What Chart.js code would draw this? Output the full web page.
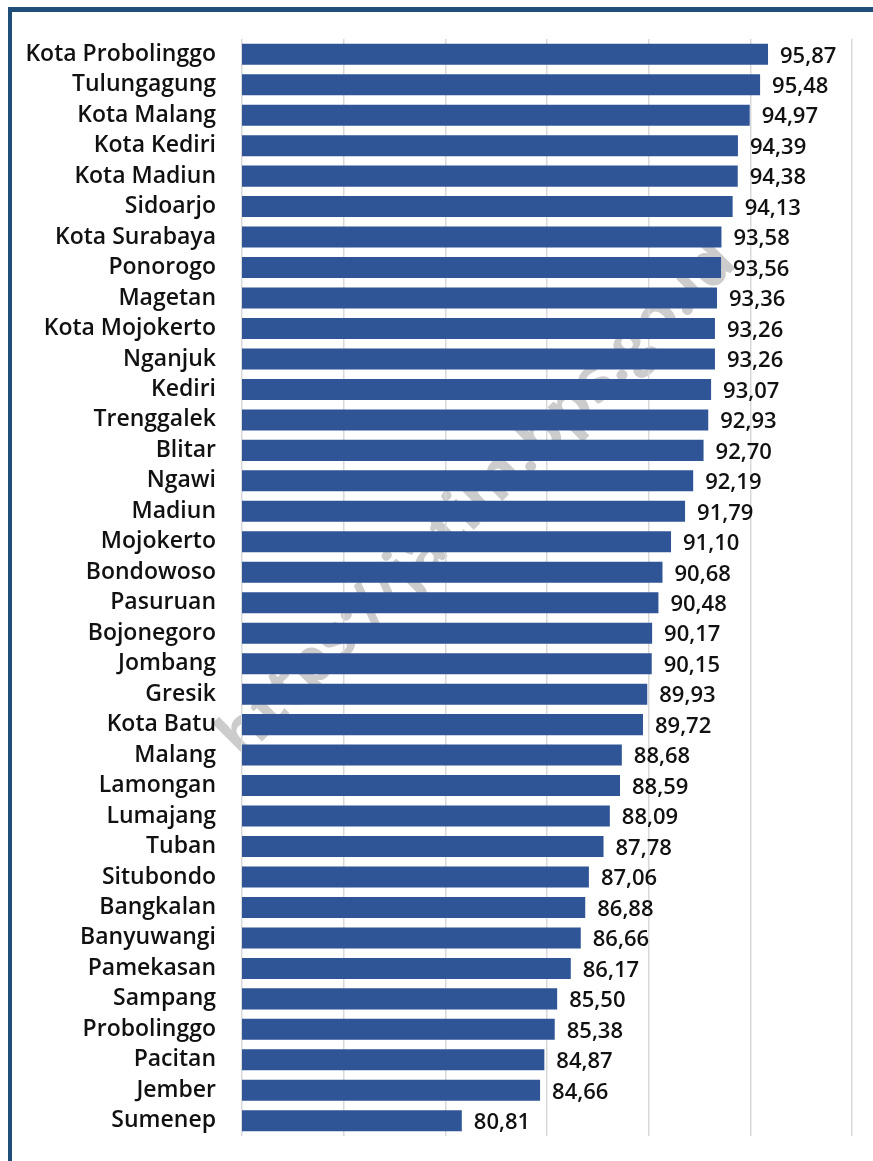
<!DOCTYPE html>
<html>
<head>
<meta charset="utf-8">
<script src="https://cdn.jsdelivr.net/npm/chart.js@4.4.1/dist/chart.umd.min.js"></script>
<style>
  html, body { margin: 0; padding: 0; background: #fff; }
  #wrap { position: relative; width: 873px; height: 1161px; overflow: hidden; }
  #frame { position: absolute; left: 8px; top: 7px; right: -10px; bottom: -10px;
           border-top: 5px solid #1f4e79; border-left: 4px solid #1f4e79; pointer-events: none; }
  canvas { position: absolute; left: 0; top: 0; }
</style>
</head>
<body>
<div id="wrap">
  <canvas id="chart" width="873" height="1161"></canvas>
  <div id="frame"></div>
</div>
<script>
// Region names (top to bottom)
const regions = [
  'Kota Probolinggo', 'Tulungagung', 'Kota Malang', 'Kota Kediri', 'Kota Madiun',
  'Sidoarjo', 'Kota Surabaya', 'Ponorogo', 'Magetan', 'Kota Mojokerto',
  'Nganjuk', 'Kediri', 'Trenggalek', 'Blitar', 'Ngawi',
  'Madiun', 'Mojokerto', 'Bondowoso', 'Pasuruan', 'Bojonegoro',
  'Jombang', 'Gresik', 'Kota Batu', 'Malang', 'Lamongan',
  'Lumajang', 'Tuban', 'Situbondo', 'Bangkalan', 'Banyuwangi',
  'Pamekasan', 'Sampang', 'Probolinggo', 'Pacitan', 'Jember', 'Sumenep'
];

// Values per region
const values = [
  95.87, 95.48, 94.97, 94.39, 94.38,
  94.13, 93.58, 93.56, 93.36, 93.26,
  93.26, 93.07, 92.93, 92.70, 92.19,
  91.79, 91.10, 90.68, 90.48, 90.17,
  90.15, 89.93, 89.72, 88.68, 88.59,
  88.09, 87.78, 87.06, 86.88, 86.66,
  86.17, 85.50, 85.38, 84.87, 84.66, 80.81
];

const axisMin = 70;
const axisMax = 100;
const axisStep = 5;

const fontFamily = '"Open Sans", "Noto Sans", sans-serif';

// Watermark, drawn first so labels, grid and bars sit on top
const watermark = {
  id: 'watermark',
  beforeDraw(chart) {
    const ctx = chart.ctx;
    ctx.save();
    ctx.translate(478, 500);
    ctx.rotate(-Math.PI / 4);
    ctx.font = 'bold 63px ' + fontFamily;
    ctx.fillStyle = '#cccccc';
    ctx.textAlign = 'center';
    ctx.textBaseline = 'middle';
    ctx.fillText('https://jatim.bps.go.id', 0, 0);
    ctx.restore();
  }
};

// Value labels at bar ends
const valueLabels = {
  id: 'valueLabels',
  afterDatasetsDraw(chart) {
    const ctx = chart.ctx;
    const meta = chart.getDatasetMeta(0);
    ctx.save();
    ctx.font = '600 22px ' + fontFamily;
    ctx.fillStyle = '#111';
    ctx.textAlign = 'left';
    ctx.textBaseline = 'middle';
    meta.data.forEach(function (bar, i) {
      const txt = values[i].toFixed(2).replace('.', ',');
      ctx.fillText(txt, bar.x + 12, bar.y + 2);
    });
    ctx.restore();
  }
};

new Chart(document.getElementById('chart'), {
  type: 'bar',
  data: {
    labels: regions,
    datasets: [{
      data: values,
      backgroundColor: '#2f5597',
      borderWidth: 0,
      categoryPercentage: 1,
      barPercentage: 0.69
    }]
  },
  options: {
    indexAxis: 'y',
    responsive: false,
    animation: false,
    layout: { padding: { top: 39, right: 21, bottom: 25, left: 0 } },
    plugins: {
      legend: { display: false },
      tooltip: { enabled: false }
    },
    scales: {
      x: {
        min: axisMin,
        max: axisMax,
        afterFit(scale) { scale.height = 0; },
        ticks: { stepSize: axisStep, display: false },
        grid: { color: '#d9d9d9', lineWidth: 1.5, drawTicks: false },
        border: { display: false }
      },
      y: {
        afterFit(scale) {
          scale.width = 242;
          scale.paddingTop = 0;
          scale.paddingBottom = 0;
        },
        ticks: {
          color: '#111',
          padding: 26,
          autoSkip: false,
          font: { family: fontFamily, size: 23, weight: '600' }
        },
        grid: { display: false, drawTicks: false },
        border: { display: false }
      }
    }
  },
  plugins: [watermark, valueLabels]
});
</script>
</body>
</html>
